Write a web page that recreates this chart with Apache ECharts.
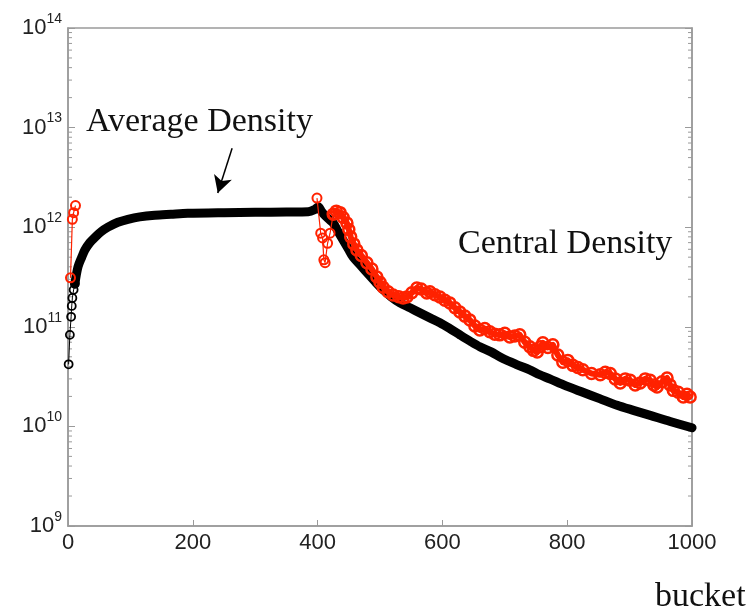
<!DOCTYPE html>
<html>
<head>
<meta charset="utf-8">
<script src="https://cdn.jsdelivr.net/npm/echarts@6/dist/echarts.min.js"></script>
<style>
html,body{margin:0;padding:0;background:#fff;}
#chart{width:755px;height:611px;}
</style>
</head>
<body>
<div id="chart"></div>
<script>
// ---- data ----
var blackStartBuckets = [1, 3, 5, 6, 7, 9, 11];
var blackStartValues = [4.2e10, 8.3e10, 1.26e11, 1.62e11, 1.95e11, 2.35e11, 2.7e11];

var blackBuckets = [11,16,22,27,35,43,53,64,80,96,115,139,165,192,250,300,350,385,395,401,406,410,417,425,433,441,449,457,468,479,492,505,518,532,548,564,580,596,612,628,644,660,678,697,718,740,756,772,798,825,852,880,906,933,965,1000];
var blackValues = [2.7e11,4.0e11,5.0e11,5.9e11,7.0e11,7.9e11,9.0e11,1.0e12,1.12e12,1.2e12,1.27e12,1.32e12,1.35e12,1.38e12,1.40e12,1.41e12,1.42e12,1.43e12,1.5e12,1.6e12,1.45e12,1.35e12,1.22e12,1.1e12,9.0e11,7.4e11,6.1e11,5.0e11,4.2e11,3.5e11,2.85e11,2.35e11,2.0e11,1.74e11,1.55e11,1.38e11,1.23e11,1.1e11,9.6e10,8.3e10,7.2e10,6.3e10,5.6e10,4.8e10,4.2e10,3.7e10,3.3e10,3.0e10,2.55e10,2.2e10,1.9e10,1.63e10,1.45e10,1.29e10,1.12e10,9.7e9];

var redStartBuckets = [4, 7, 9, 12];
var redStartValues = [3.1e11, 1.2e12, 1.4e12, 1.65e12];

var redDropBuckets = [399, 405, 408, 410, 412, 416, 420, 425];
var redDropValues = [1.96e12, 8.7e11, 7.8e11, 4.7e11, 4.4e11, 6.9e11, 8.7e11, 1.35e12];

var redBandBuckets = [425,430,436,441,447,450,453,458,463,470,479,487,495,500,505,513,521,530,537,543,551,559,566,575,580,588,596,604,612,620,628,636,644,652,660,668,676,684,692,700,708,716,724,732,740,746,752,757,761,769,777,785,793,801,809,817,825,839,853,861,869,877,885,893,901,909,917,925,933,939,944,952,960,965,970,978,986,992,997];
var redBandValues = [1.35e12,1.45e12,1.40e12,1.25e12,1.10e12,9.5e11,8.0e11,6.8e11,5.9e11,5.2e11,4.4e11,3.8e11,3.16e11,2.8e11,2.5e11,2.25e11,2.09e11,2.0e11,1.95e11,1.99e11,2.2e11,2.45e11,2.4e11,2.18e11,2.25e11,2.1e11,1.99e11,1.85e11,1.73e11,1.55e11,1.41e11,1.28e11,1.17e11,1.02e11,9.3e10,9.6e10,8.9e10,8.4e10,8.3e10,8.6e10,7.9e10,8.1e10,8.3e10,7.0e10,6.3e10,5.8e10,5.6e10,6.3e10,6.9e10,6.2e10,6.6e10,5.2e10,4.4e10,4.6e10,4.1e10,3.9e10,3.7e10,3.4e10,3.3e10,3.5e10,3.4e10,3.0e10,2.73e10,3.0e10,2.9e10,2.6e10,2.73e10,3.0e10,2.9e10,2.6e10,2.49e10,2.8e10,3.06e10,2.6e10,2.3e10,2.2e10,1.97e10,2.1e10,1.97e10];

var xTicks = [0, 200, 400, 600, 800, 1000];
var yDecades = [9, 10, 11, 12, 13, 14];
var arrowFrom = [263, 6.2e12];
var arrowTo = [240, 2.2e12];

// minor log ticks (axis structure)
var minorTicks = [];
for (var d = 9; d < 14; d++) {
  for (var k = 2; k <= 9; k++) minorTicks.push(k * Math.pow(10, d));
}

function pairs(xs, ys) {
  return xs.map(function (x, i) { return [x, ys[i]]; });
}

var AX = '#9a9a9a';
var RED = '#ff2200';
var chart = echarts.init(document.getElementById('chart'));
chart.setOption({
  animation: false,
  backgroundColor: '#fff',
  grid: { left: 68, right: 63, top: 28, bottom: 85, show: true, borderColor: AX, borderWidth: 1.5 },
  xAxis: {
    type: 'value', min: xTicks[0], max: xTicks[xTicks.length - 1], interval: 200,
    axisLine: { show: true, lineStyle: { color: AX, width: 1.5 } },
    axisTick: { show: true, inside: true, length: 6, lineStyle: { color: AX } },
    splitLine: { show: false },
    axisLabel: { fontFamily: 'Liberation Sans', fontSize: 22, color: '#222', margin: 6,
      formatter: function (v) { return String(v); } }
  },
  yAxis: [{
    type: 'log', logBase: 10, min: Math.pow(10, yDecades[0]), max: Math.pow(10, yDecades[yDecades.length - 1]),
    axisLine: { show: true, lineStyle: { color: AX, width: 1.5 } },
    axisTick: { show: true, inside: true, length: 7, lineStyle: { color: AX } },
    splitLine: { show: false },
    axisLabel: {
      margin: 6,
      formatter: function (v) { return '{b|10}{s|' + Math.round(Math.log10(v)) + '}'; },
      rich: {
        b: { fontFamily: 'Liberation Sans', fontSize: 22, color: '#222', lineHeight: 32, verticalAlign: 'middle' },
        s: { fontFamily: 'Liberation Sans', fontSize: 14, color: '#222', lineHeight: 14, verticalAlign: 'top' }
      }
    }
  }, {
    type: 'log', logBase: 10, position: 'right', min: Math.pow(10, yDecades[0]), max: Math.pow(10, yDecades[yDecades.length - 1]),
    axisLine: { show: true, lineStyle: { color: AX, width: 1.5 } },
    axisTick: { show: true, inside: true, length: 7, lineStyle: { color: AX } },
    axisLabel: { show: false }, splitLine: { show: false }
  }],
  series: [
    {
      type: 'custom', silent: true, z: 1,
      data: minorTicks.map(function (v) { return [0, v]; }),
      renderItem: function (params, api) {
        var p0 = api.coord([xTicks[0], api.value(1)]);
        var p1 = api.coord([xTicks[xTicks.length - 1], api.value(1)]);
        return {
          type: 'group', children: [
            { type: 'line', shape: { x1: p0[0], y1: p0[1], x2: p0[0] + 4, y2: p0[1] }, style: { stroke: AX, lineWidth: 1 } },
            { type: 'line', shape: { x1: p1[0], y1: p1[1], x2: p1[0] - 4, y2: p1[1] }, style: { stroke: AX, lineWidth: 1 } }
          ]
        };
      }
    },
    {
      name: 'Average Density (start)', type: 'line', data: pairs(blackStartBuckets, blackStartValues),
      symbol: 'circle', symbolSize: 8, showAllSymbol: true,
      lineStyle: { color: '#000', width: 1 }, itemStyle: { color: 'rgba(255,255,255,0)', borderColor: '#000', borderWidth: 1.8 }, z: 3
    },
    {
      name: 'Average Density', type: 'line', data: pairs(blackBuckets, blackValues),
      symbol: 'none', smooth: 0.3,
      lineStyle: { color: '#000', width: 9, cap: 'round', join: 'round' }, z: 3,
      markLine: {
        silent: true, symbol: ['none', 'arrow'], symbolSize: [14, 17],
        lineStyle: { color: '#000', width: 1.5, type: 'solid' }, label: { show: false },
        data: [[{ coord: arrowFrom }, { coord: arrowTo }]]
      }
    },
    {
      name: 'Central Density (start)', type: 'line', data: pairs(redStartBuckets, redStartValues),
      symbol: 'circle', symbolSize: 9, showAllSymbol: true,
      lineStyle: { color: RED, width: 1.2 },
      itemStyle: { color: 'rgba(255,255,255,0)', borderColor: RED, borderWidth: 2 }, z: 4
    },
    {
      name: 'Central Density (drop)', type: 'line', data: pairs(redDropBuckets, redDropValues),
      symbol: 'circle', symbolSize: 9, showAllSymbol: true,
      lineStyle: { color: RED, width: 1.2 },
      itemStyle: { color: 'rgba(255,255,255,0)', borderColor: RED, borderWidth: 2 }, z: 4
    },
    {
      name: 'Central Density', type: 'line', data: pairs(redBandBuckets, redBandValues),
      symbol: 'circle', symbolSize: 11, showAllSymbol: true,
      lineStyle: { color: RED, width: 6, join: 'round' },
      itemStyle: { color: 'rgba(255,255,255,0)', borderColor: RED, borderWidth: 2.5 }, z: 4
    }
  ],
  graphic: [
    { type: 'text', left: 86, top: 105, style: { text: 'Average Density', font: '34px "Liberation Serif"', fill: '#111' } },
    { type: 'text', left: 458, top: 227, style: { text: 'Central Density', font: '34px "Liberation Serif"', fill: '#111' } },
    { type: 'text', left: 655, top: 580, style: { text: 'bucket', font: '34px "Liberation Serif"', fill: '#111' } }
  ]
});
</script>
</body>
</html>
